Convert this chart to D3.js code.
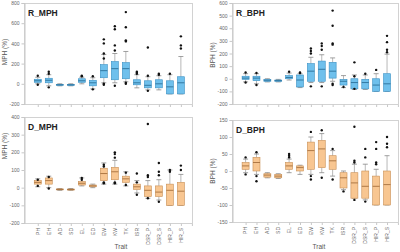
<!DOCTYPE html>
<html>
<head>
<meta charset="utf-8">
<script src="https://cdn.jsdelivr.net/npm/d3@7"></script>
<style>
  body { margin: 0; background: #fff; }
  svg { font-family: "Liberation Sans", Arial, sans-serif; }
</style>
</head>
<body>
<div id="chart"></div>
<script>
const width = 400, height = 252;

const traits = ['PH', 'EH', 'AD', 'SD', 'EL', 'ED', 'EW', 'KW', 'TK', 'ISR', 'DSR_P', 'DSR_S', 'HIR_P', 'HIR_S'];

// each box: [whisker low, q1, median, q3, whisker high]
const rMphBox = [
    [0, 15, 30, 45, 65], [-20, 10, 35, 55, 90], [-20, -15, -10, -5, 0], [-20, -15, -10, -6, 0],
    [0, 15, 30, 50, 65], [-50, -20, 10, 35, 60], [10, 60, 130, 190, 290], [10, 40, 150, 220, 300],
    [20, 50, 150, 210, 320], [-40, -10, 10, 40, 90], [-60, -40, -15, 30, 70], [-60, -40, 0, 40, 80],
    [-100, -100, -30, 30, 90], [-100, -100, 10, 70, 270]
];
const rMphOut = [
    [80, -10], [120, 100, -35], [], [], [80, 75], [75, -55], [440, 400, 300, 250, -10, 0],
    [570, 540, 380, 330, -20], [710, 560, 430, 420, 10, 0], [120, 110, 100], [360, 80, -70],
    [100, 90], [100], [470, 380, 350]
];

const rBphBox = [
    [-25, -5, 5, 20, 40], [-40, -15, 5, 20, 40], [-25, -20, -12, -5, 0], [-25, -20, -15, -10, -5],
    [-10, 0, 10, 25, 45], [-70, -65, -10, 30, 40], [-30, -20, 60, 120, 170], [-30, -20, 75, 140, 190],
    [-20, 5, 60, 130, 165], [-70, -50, -20, -5, 25], [-85, -80, -30, 0, 30], [-85, -80, -30, -5, 30],
    [-100, -100, -50, 0, 40], [-100, -100, -40, 40, 195]
];
const rBphOut = [
    [50, -30], [45, -50], [], [], [55], [50, 45], [240, 220, 200, -60], [280, 260, 230, -60],
    [540, 420, 280, 270, -40, -50], [-65], [130, 20, -80], [40], [70], [340, 290, 230, 210]
];

const dMphBox = [
    [5, 20, 30, 40, 50], [0, 20, 40, 55, 65], [-15, -12, -10, -7, -5], [-15, -12, -10, -8, -5],
    [10, 15, 25, 35, 55], [0, 5, 10, 15, 20], [20, 40, 80, 110, 140], [20, 45, 90, 115, 155],
    [10, 30, 50, 65, 90], [-30, -10, 5, 20, 40], [-60, -50, -15, 10, 40], [-70, -50, -25, 10, 45],
    [-100, -100, -15, 20, 100], [-100, -100, -20, 30, 75]
];
const dMphOut = [
    [45, 10], [60, -5], [], [], [45, 55], [], [120, 130, 30, 25], [200, 190, 170, 30, 25],
    [85, 15], [80, -40, 30], [360, 70, 60, -60], [140, 90, 70, -80], [90, 100], [125, 100]
];

const dBphBox = [
    [-5, 5, 15, 25, 35], [-10, 0, 25, 40, 50], [-20, -18, -12, -8, -5], [-22, -20, -15, -10, -8],
    [-5, 5, 15, 25, 35], [-10, 0, 10, 15, 17], [-10, 5, 60, 85, 100], [-5, 10, 65, 90, 110],
    [-15, 5, 30, 45, 60], [-55, -50, -20, -5, 0], [-80, -80, -35, -5, 20], [-85, -80, -45, 0, 20],
    [-100, -100, -45, -15, 5], [-100, -100, -40, 0, 45]
];
const dBphOut = [
    [40, -10], [55, -30, -15], [], [], [50, 45, 40], [], [115, -25, -15], [120, -20],
    [65, -25], [-60], [130, 30, 25, -85], [65, 40, -90], [85, 65, 25, 20], [100, 80, 70]
];

const blue = { fill: '#6fc0ec', stroke: '#3a90c4', med: '#25678f' };
const orange = { fill: '#f8c691', stroke: '#c88f55', med: '#9c6634' };

const panels = [
    { title: 'R_MPH', ylab: 'MPH (%)', box: rMphBox, out: rMphOut, yDomain: [-200, 800], step: 200,
      left: 24, right: 193, top: 3, bottom: 104, labY: 52, col: blue, xLabels: false },
    { title: 'R_BPH', ylab: 'BPH (%)', box: rBphBox, out: rBphOut, yDomain: [-200, 600], step: 100,
      left: 232, right: 399, top: 3, bottom: 104, labY: 55, col: blue, xLabels: false },
    { title: 'D_MPH', ylab: 'MPH (%)', box: dMphBox, out: dMphOut, yDomain: [-200, 400], step: 100,
      left: 24, right: 193, top: 117, bottom: 223, labY: 146, col: orange, xLabels: true, traitX: 121 },
    { title: 'D_BPH', ylab: 'BPH (%)', box: dBphBox, out: dBphOut, yDomain: [-150, 150], step: 50,
      left: 232, right: 399, top: 120, bottom: 222, labY: 171, col: orange, xLabels: true, traitX: 319 }
];

const svg = d3.select('#chart').append('svg')
    .attr('width', width)
    .attr('height', height);

function drawPanel(p) {
    const x = d3.scaleLinear().domain([-1.25, 14.1]).range([p.left, p.right]);
    const y = d3.scaleLinear().domain(p.yDomain).range([p.bottom, p.top]);
    const g = svg.append('g');

    // frame
    g.append('rect')
        .attr('x', p.left + 0.5).attr('y', p.top + 0.5)
        .attr('width', p.right - p.left - 1).attr('height', p.bottom - p.top)
        .attr('fill', 'none').attr('stroke', '#c8c8c8').attr('stroke-width', 0.8);

    // y axis
    const yAxis = g.append('g')
        .attr('transform', 'translate(' + (p.left + 0.5) + ',0)')
        .call(d3.axisLeft(y).tickValues(d3.range(p.yDomain[0], p.yDomain[1] + 1, p.step))
            .tickSize(3).tickPadding(2).tickFormat(d => String(d)));
    yAxis.select('.domain').attr('stroke', '#c8c8c8');
    yAxis.selectAll('line').attr('stroke', '#c8c8c8');
    yAxis.selectAll('text').attr('font-size', 5).attr('fill', '#666');

    // x axis ticks
    const xAxis = g.append('g')
        .attr('transform', 'translate(0,' + (p.bottom + 0.5) + ')')
        .call(d3.axisBottom(x).tickValues(d3.range(0, 15)).tickSize(2.5).tickFormat(''));
    xAxis.select('.domain').remove();
    xAxis.selectAll('line').attr('stroke', '#c8c8c8');

    if (p.xLabels) {
        g.selectAll('.xlab').data(traits).enter().append('text')
            .attr('class', 'xlab')
            .attr('transform', (d, i) => 'translate(' + (x(i) + 1.8) + ',' + (p.bottom + 5) + ') rotate(-90)')
            .attr('text-anchor', 'end')
            .attr('font-size', 5)
            .attr('fill', '#666')
            .text(d => d);
        g.append('text')
            .attr('x', p.traitX).attr('y', 249)
            .attr('text-anchor', 'middle')
            .attr('font-size', 6.5).attr('fill', '#555')
            .text('Trait');
    }

    // y label
    g.append('text')
        .attr('transform', 'translate(' + (p.left - 17) + ',' + p.labY + ') rotate(-90)')
        .attr('text-anchor', 'middle')
        .attr('font-size', 6.5).attr('fill', '#555')
        .text(p.ylab);

    // title
    g.append('text')
        .attr('x', p.left + 4).attr('y', p.top + 13)
        .attr('font-size', 8.5).attr('font-weight', 'bold').attr('fill', '#222')
        .text(p.title);

    const bw = 7, cw = 5;
    const boxes = g.selectAll('.box').data(p.box).enter().append('g').attr('class', 'box');

    // whiskers
    boxes.append('line')
        .attr('x1', (d, i) => x(i)).attr('x2', (d, i) => x(i))
        .attr('y1', d => y(d[0])).attr('y2', d => y(d[1]))
        .attr('stroke', '#999').attr('stroke-width', 0.7);
    boxes.append('line')
        .attr('x1', (d, i) => x(i)).attr('x2', (d, i) => x(i))
        .attr('y1', d => y(d[3])).attr('y2', d => y(d[4]))
        .attr('stroke', '#999').attr('stroke-width', 0.7);
    boxes.append('line')
        .attr('x1', (d, i) => x(i) - cw / 2).attr('x2', (d, i) => x(i) + cw / 2)
        .attr('y1', d => y(d[0])).attr('y2', d => y(d[0]))
        .attr('stroke', '#888').attr('stroke-width', 0.8);
    boxes.append('line')
        .attr('x1', (d, i) => x(i) - cw / 2).attr('x2', (d, i) => x(i) + cw / 2)
        .attr('y1', d => y(d[4])).attr('y2', d => y(d[4]))
        .attr('stroke', '#888').attr('stroke-width', 0.8);

    // box
    boxes.append('rect')
        .attr('x', (d, i) => x(i) - bw / 2).attr('width', bw)
        .attr('y', d => y(d[3])).attr('height', d => Math.max(1, y(d[1]) - y(d[3])))
        .attr('fill', p.col.fill).attr('stroke', p.col.stroke).attr('stroke-width', 0.6);

    // median
    boxes.append('line')
        .attr('x1', (d, i) => x(i) - bw / 2).attr('x2', (d, i) => x(i) + bw / 2)
        .attr('y1', d => y(d[2])).attr('y2', d => y(d[2]))
        .attr('stroke', p.col.med).attr('stroke-width', 0.8);

    // outliers
    const pts = [];
    p.out.forEach((arr, i) => arr.forEach(v => pts.push({ i: i, v: v })));
    g.selectAll('.pt').data(pts).enter().append('circle')
        .attr('class', 'pt')
        .attr('cx', d => x(d.i)).attr('cy', d => y(d.v))
        .attr('r', 1.2).attr('fill', '#111');
}

panels.forEach(drawPanel);
</script>
</body>
</html>
